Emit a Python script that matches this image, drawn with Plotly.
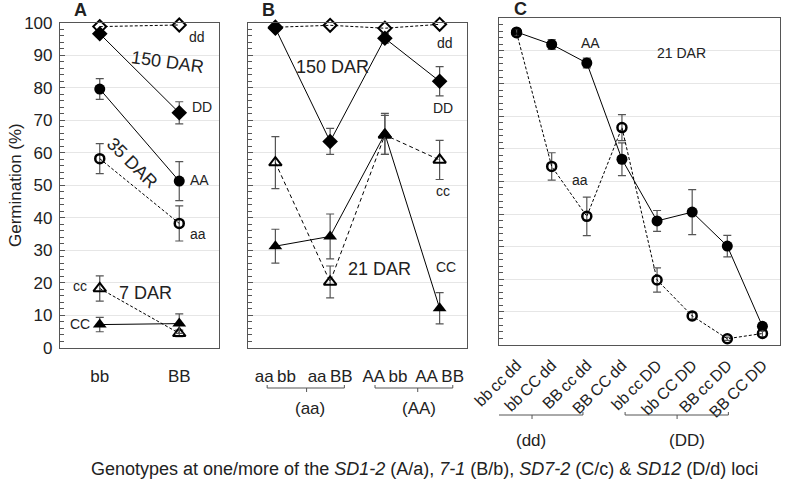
import plotly.graph_objects as go

# ---- data ----
a_cats = ["bb", "BB"]
a_dd150 = [98.8, 99.3]
a_DD150 = [96.6, 72.3]
a_DD150_err = [1.0, 3.4]
a_AA35 = [79.6, 51.3]
a_AA35_err = [3.2, 6.0]
a_aa35 = [58.2, 38.3]
a_aa35_err = [4.6, 5.4]
a_cc7 = [18.3, 4.5]
a_cc7_err = [3.9, 1.0]
a_CC7 = [7.2, 7.5]
a_CC7_err = [2.2, 3.0]

T = "\u2009"  # thin space between loci
b_cats = ["aa" + T + "bb", "aa" + T + "BB", "AA" + T + "bb", "AA" + T + "BB"]
b_dd150 = [98.6, 99.2, 98.3, 99.5]
b_DD150 = [98.3, 63.5, 95.2, 82.0]
b_DD150_err = [0.8, 4.0, 1.5, 4.5]
b_cc21 = [57.0, 20.3, 65.5, 57.8]
b_cc21_err = [8.0, 4.9, 6.0, 6.0]
b_CC21 = [31.3, 34.3, 65.8, 12.2]
b_CC21_err = [5.2, 6.9, 6.3, 4.8]

c_cats = ["bb" + T + "cc" + T + "dd", "bb" + T + "CC" + T + "dd", "BB" + T + "cc" + T + "dd", "BB" + T + "CC" + T + "dd",
          "bb" + T + "cc" + T + "DD", "bb" + T + "CC" + T + "DD", "BB" + T + "cc" + T + "DD", "BB" + T + "CC" + T + "DD"]
c_AA21 = [95.8, 92.0, 86.3, 56.8, 37.9, 40.6, 30.2, 5.6]
c_AA21_err = [0.8, 1.5, 1.5, 5.0, 3.2, 6.9, 3.3, 1.0]
c_aa21 = [95.6, 54.6, 39.3, 66.5, 19.8, 8.8, 1.8, 3.4]
c_aa21_err = [1.0, 4.2, 5.9, 4.0, 3.7, 1.0, 0.5, 1.0]

FONT = "Liberation Sans, Arial, sans-serif"
W, H = 786, 479
ERRC = "#555555"


def px_x(p):
    return p / W


def px_y(p):
    return 1 - p / H


def series(x, y, err, xa, ya, symbol, size, dash, filled, lw=2):
    mk = dict(symbol=symbol, size=size, color="black")
    if not filled:
        mk = dict(symbol=symbol + "-open", size=size, color="black", line=dict(width=lw, color="black"))
    ebar = None
    if err is not None:
        ebar = dict(type="data", array=err, visible=True, color=ERRC, thickness=1.2, width=4)
    return go.Scatter(x=x, y=y, error_y=ebar, mode="lines+markers", xaxis=xa, yaxis=ya,
                      line=dict(color="black", width=1, dash=dash), marker=mk, showlegend=False,
                      cliponaxis=False)


fig = go.Figure()
dsh = "3px,2px"
# panel A
fig.add_trace(series(a_cats, a_dd150, None, "x", "y", "diamond", 10, dsh, False))
fig.add_trace(series(a_cats, a_DD150, a_DD150_err, "x", "y", "diamond", 12, "solid", True))
fig.add_trace(series(a_cats, a_AA35, a_AA35_err, "x", "y", "circle", 11, "solid", True))
fig.add_trace(series(a_cats, a_aa35, a_aa35_err, "x", "y", "circle", 9, dsh, False, 2.5))
fig.add_trace(series(a_cats, a_cc7, a_cc7_err, "x", "y", "triangle-up", 11, dsh, False))
fig.add_trace(series(a_cats, a_CC7, a_CC7_err, "x", "y", "triangle-up", 12, "solid", True))
# panel B
fig.add_trace(series(b_cats, b_dd150, None, "x2", "y2", "diamond", 10, dsh, False))
fig.add_trace(series(b_cats, b_DD150, b_DD150_err, "x2", "y2", "diamond", 12, "solid", True))
fig.add_trace(series(b_cats, b_cc21, b_cc21_err, "x2", "y2", "triangle-up", 11, "4px,3px", False))
fig.add_trace(series(b_cats, b_CC21, b_CC21_err, "x2", "y2", "triangle-up", 12, "solid", True))
# panel C
fig.add_trace(series(c_cats, c_AA21, c_AA21_err, "x3", "y3", "circle", 11, "solid", True))
fig.add_trace(series(c_cats, c_aa21, c_aa21_err, "x3", "y3", "circle", 9, dsh, False, 2.5))

ydom_ab = [px_y(348), px_y(22.7)]
ydom_c = [px_y(344.6), px_y(18.3)]

xcommon = dict(type="category", showline=True, mirror=True, linecolor="#555555", linewidth=1.2,
               ticks="", showgrid=False, automargin=False,
               tickfont=dict(family=FONT, size=17, color="#222"))
ycommon = dict(range=[0, 100], showline=True, mirror=True, linecolor="#555555", linewidth=1.2,
               ticks="inside", ticklen=5, tickcolor="#555555", dtick=10, automargin=False,
               minor=dict(dtick=2, ticks="inside", ticklen=4, tickcolor="#555555", showgrid=False),
               showgrid=True, gridcolor="#e6e6e6", gridwidth=1, zeroline=False,
               tickfont=dict(family=FONT, size=17, color="#222"))

fig.update_layout(
    width=W, height=H, margin=dict(l=0, r=0, t=0, b=0),
    paper_bgcolor="white", plot_bgcolor="white",
    font=dict(family=FONT, color="#222"),
    xaxis=dict(xcommon, domain=[px_x(60), px_x(219)], anchor="y", range=[-0.5, 1.5], ticklabelstandoff=12),
    yaxis=dict(ycommon, domain=ydom_ab, anchor="x", ticklabelstandoff=3),
    xaxis2=dict(xcommon, domain=[px_x(248), px_x(467)], anchor="y2", range=[-0.5, 3.5], ticklabelstandoff=12),
    yaxis2=dict(ycommon, domain=ydom_ab, anchor="x2", showticklabels=False),
    xaxis3=dict(xcommon, domain=[px_x(499), px_x(780)], anchor="y3", range=[-0.5, 7.5], tickangle=-45,
                ticklabelstandoff=4, tickfont=dict(family=FONT, size=16, color="#222")),
    yaxis3=dict(ycommon, domain=ydom_c, anchor="x3", showticklabels=False),
)

ann = []


def lab(text, x, y, xa, ya, size=14, angle=0):
    ann.append(dict(text=text, x=x, y=y, xref=xa, yref=ya, showarrow=False, textangle=angle,
                    xanchor="center", yanchor="middle", font=dict(family=FONT, size=size, color="#222")))


def plab(text, xp, yp, size=17, angle=0):
    ann.append(dict(text=text, x=px_x(xp), y=px_y(yp), xref="paper", yref="paper", showarrow=False,
                    textangle=angle, xanchor="center", yanchor="middle",
                    font=dict(family=FONT, size=size, color="#222")))


# panel A labels
lab("dd", 1.22, 95.5, "x", "y")
lab("150 DAR", 0.85, 88, "x", "y", 18, 8)
lab("DD", 1.29, 74, "x", "y")
lab("35 DAR", 0.41, 57, "x", "y", 18, 45)
lab("AA", 1.25, 51.5, "x", "y")
lab("aa", 1.24, 35, "x", "y")
lab("cc", -0.25, 19, "x", "y")
lab("7 DAR", 0.58, 17, "x", "y", 18)
lab("CC", -0.25, 7.5, "x", "y")
# panel B labels
lab("150 DAR", 1.05, 86.3, "x2", "y2", 18)
lab("dd", 3.09, 93.8, "x2", "y2")
lab("DD", 3.07, 73.8, "x2", "y2")
lab("cc", 3.07, 48.2, "x2", "y2")
lab("21 DAR", 1.91, 24.3, "x2", "y2", 18)
lab("CC", 3.12, 24.8, "x2", "y2")
# panel C labels
lab("AA", 2.1, 92.5, "x3", "y3", 14)
lab("21 DAR", 4.7, 89.4, "x3", "y3", 14)
lab("aa", 1.8, 50.5, "x3", "y3", 14)

# panel letters, axis titles, bracket group names
plab("<b>A</b>", 80, 10, 18)
plab("<b>B</b>", 268, 10, 18)
plab("<b>C</b>", 520, 9, 18)
plab("Germination (%)", 15, 185, 17, -90)
plab("Genotypes at one/more of the <i>SD1-2</i> (A/a), <i>7-1</i> (B/b), "
     "<i>SD7-2</i> (C/c) &amp; <i>SD12</i> (D/d) loci", 424, 469, 18)
plab("(aa)", 310, 408)
plab("(AA)", 419, 408)
plab("(dd)", 531, 440)
plab("(DD)", 687, 440)
fig.update_layout(annotations=ann)

# brackets
shapes = []


def bracket(xa, x0, x1, xc, ypx):
    yb = px_y(ypx)
    ln = dict(color="#555555", width=1)
    shapes.append(dict(type="line", xref=xa, yref="paper", x0=x0, x1=x1, y0=yb, y1=yb, line=ln))
    shapes.append(dict(type="line", xref=xa, yref="paper", x0=x0, x1=x0, y0=yb, y1=px_y(ypx - 3), line=ln))
    shapes.append(dict(type="line", xref=xa, yref="paper", x0=x1, x1=x1, y0=yb, y1=px_y(ypx - 3), line=ln))
    shapes.append(dict(type="line", xref=xa, yref="paper", x0=xc, x1=xc, y0=yb, y1=px_y(ypx + 4), line=ln))


bracket("x2", -0.15, 1.26, 0.57, 388)
bracket("x2", 1.82, 3.24, 2.6, 388)
bracket("x3", -1.07, 1.89, 0.44, 415)
bracket("x3", 3.09, 6.03, 4.57, 415)
fig.update_layout(shapes=shapes)

# drop the page's default body margin so the figure sits at the window's corner
fig.write_html("out.html", config={"displayModeBar": False},
               post_script="document.body.style.margin='0px';")
